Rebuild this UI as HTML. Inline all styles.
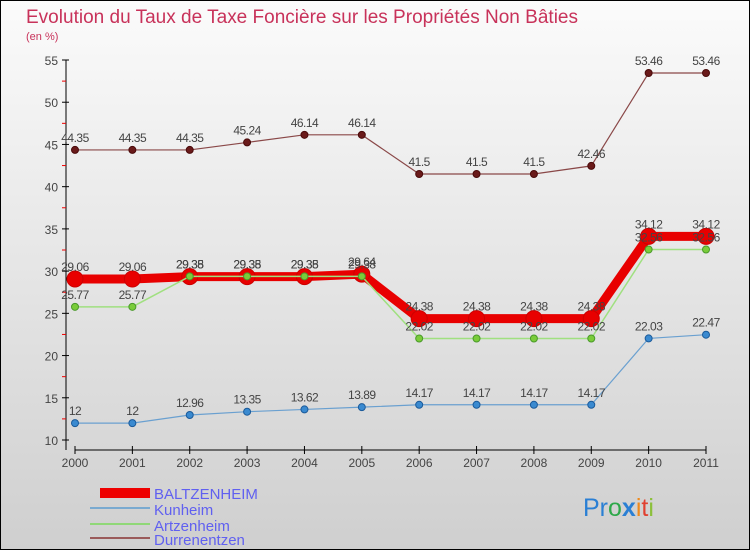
<!DOCTYPE html>
<html><head><meta charset="utf-8"><style>
body{margin:0;width:750px;height:550px;overflow:hidden}
svg{display:block;font-family:"Liberation Sans",sans-serif}
</style></head><body>
<svg id="c" width="750" height="550">
<defs><linearGradient id="bg" x1="0" y1="0" x2="0" y2="1"><stop offset="0" stop-color="#fbfbfb"/><stop offset="1" stop-color="#cfcfcf"/></linearGradient></defs>
<rect x="0.5" y="0.5" width="749" height="549" fill="url(#bg)" stroke="#000"/>
<text x="26" y="23" font-size="19" fill="#c8325a" textLength="552">Evolution du Taux de Taxe Foncière sur les Propriétés Non Bâties</text>
<text x="26" y="40" font-size="11" fill="#c8325a">(en %)</text>
<g id="axes"></g><g id="series"></g><g id="labels"></g>
<g>
<rect x="100" y="488" width="50" height="10" fill="#e00"/>
<text x="154" y="499" font-size="15" fill="#6060f0">BALTZENHEIM</text>
<rect x="90" y="507" width="60" height="2" fill="#7aaad0"/>
<text x="154" y="515" font-size="15" fill="#6060f0">Kunheim</text>
<rect x="90" y="523" width="60" height="2" fill="#90d878"/>
<text x="154" y="531" font-size="15" fill="#6060f0">Artzenheim</text>
<rect x="90" y="537" width="60" height="2" fill="#9a5a5a"/>
<text x="154" y="545" font-size="15" fill="#6060f0">Durrenentzen</text>
</g>
<text x="583" y="516" font-size="25"><tspan fill="#2a7fd4">Pr</tspan><tspan fill="#2ea84a">o</tspan><tspan fill="#2a7fd4" font-weight="bold">x</tspan><tspan fill="#f08a1c">i</tspan><tspan fill="#e04030">t</tspan><tspan fill="#8cc03c">i</tspan></text>
</svg>
<script>
const years=["2000","2001","2002","2003","2004","2005","2006","2007","2008","2009","2010","2011"];
const yTicks=[10,15,20,25,30,35,40,45,50,55];
const baltzenheim=[29.06,29.06,29.35,29.35,29.35,29.64,24.38,24.38,24.38,24.38,34.12,34.12];
const kunheim=[12,12,12.96,13.35,13.62,13.89,14.17,14.17,14.17,14.17,22.03,22.47];
const artzenheim=[25.77,25.77,29.38,29.38,29.38,29.38,22.02,22.02,22.02,22.02,32.56,32.56];
const durrenentzen=[44.35,44.35,44.35,45.24,46.14,46.14,41.5,41.5,41.5,42.46,53.46,53.46];
const NS="http://www.w3.org/2000/svg";
const X=i=>75+i*(706-75)/11;
const Y=v=>440-(v-10)*(380/45);
function mk(t,a,p){const e=document.createElementNS(NS,t);for(const k in a)e.setAttribute(k,a[k]);p.appendChild(e);return e;}
const ax=document.getElementById('axes');
let l=mk('line',{x1:66,y1:60,x2:66,y2:450,stroke:'#000'},ax);


l=mk('line',{x1:75,y1:450,x2:706,y2:450,stroke:'#000'},ax);


yTicks.forEach(v=>{mk('line',{x1:62,y1:Y(v),x2:69,y2:Y(v),stroke:'#000'},ax);
 if(v<55)mk('line',{x1:62,y1:Y(v+2.5),x2:66,y2:Y(v+2.5),stroke:'#e00'},ax);
 const t=mk('text',{x:58,y:Y(v)+5,'font-size':12,fill:'#444','text-anchor':'end'},ax);t.textContent=v;
 
 });
years.forEach((y,i)=>{mk('line',{x1:X(i),y1:446,x2:X(i),y2:454,stroke:'#000'},ax);
 const t=mk('text',{x:X(i),y:467,'font-size':12,fill:'#444','text-anchor':'middle'},ax);t.textContent=y;
 
 });
const S=document.getElementById('series'),L=document.getElementById('labels');
function draw(data,name,color,w,r,pf,ps){
 const g=mk('g',{},S);
 
 
 const p=mk('polyline',{points:data.map((v,i)=>X(i)+','+Y(v)).join(' '),fill:'none',stroke:color,'stroke-width':w},g);
 
 
 data.forEach((v,i)=>{const c=mk('circle',{cx:X(i),cy:Y(v),r:r,fill:pf,stroke:ps,'stroke-width':1},g);
  
  
  const t=mk('text',{x:X(i),y:Y(v)-8,'font-size':12,fill:'#444','text-anchor':'middle','letter-spacing':'-0.5'},L);t.textContent=v;
  
  });
}
draw(baltzenheim,'baltzenheim','#e80000',9,8,'#e80000','#c00');
draw(durrenentzen,'durrenentzen','#8a4848',1.2,3.5,'#6a1a1a','#4a0a0a');
draw(artzenheim,'artzenheim','#a0e080',1.5,3.5,'#7acc3a','#4a9a2a');
draw(kunheim,'kunheim','#6aa0d0',1.2,3.5,'#3a8ad0','#1a5a9a');
</script>
</body></html>
